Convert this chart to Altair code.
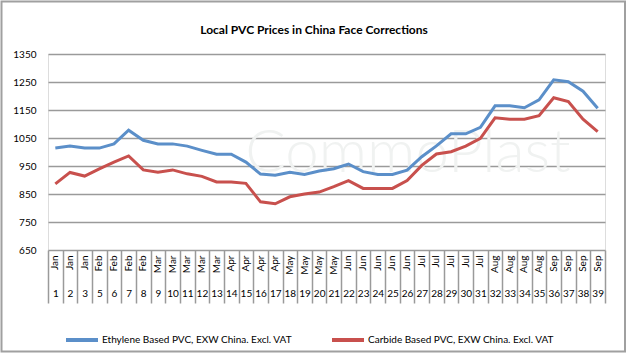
import altair as alt
import pandas as pd

# ---- data ----
months = ["Jan", "Jan", "Jan", "Feb", "Feb", "Feb", "Feb",
          "Mar", "Mar", "Mar", "Mar", "Mar", "Apr", "Apr", "Apr", "Apr",
          "May", "May", "May", "May", "Jun", "Jun", "Jun", "Jun", "Jun",
          "Jul", "Jul", "Jul", "Jul", "Jul", "Aug", "Aug", "Aug", "Aug",
          "Sep", "Sep", "Sep", "Sep"]
weeks = [1, 2, 3, 5, 6, 7, 8, 9, 10, 11, 12, 13, 14, 15, 16, 17, 18, 19, 20,
         21, 22, 23, 24, 25, 26, 27, 28, 29, 30, 31, 32, 33, 34, 35, 36, 37, 38, 39]
ethylene = [1014, 1021, 1014, 1014, 1029, 1078, 1042, 1029, 1029, 1021, 1006,
            992, 992, 964, 921, 917, 928, 920, 932, 940, 957, 930, 920, 920,
            935, 983, 1022, 1065, 1065, 1088, 1165, 1165, 1158, 1186, 1258,
            1251, 1217, 1156]
carbide = [886, 927, 914, 940, 964, 986, 936, 928, 936, 922, 913, 893, 893,
           888, 822, 815, 840, 850, 857, 876, 898, 870, 870, 870, 898, 952,
           993, 1001, 1021, 1049, 1122, 1117, 1117, 1130, 1194, 1180, 1117, 1073]
series_names = ["Ethylene Based PVC, EXW China. Excl. VAT",
                "Carbide Based PVC, EXW China. Excl. VAT"]
colors = ["#5B8FC9", "#C8504D"]
y_ticks = [650, 750, 850, 950, 1050, 1150, 1250, 1350]
title_text = "Local PVC Prices in China Face Corrections"
watermark = "CommoPlast"

keys = [f"{m}|{w}" for m, w in zip(months, weeks)]
rows = []
for name, vals in zip(series_names, [ethylene, carbide]):
    for k, v in zip(keys, vals):
        rows.append({"key": k, "series": name, "price": v})
df = pd.DataFrame(rows)

FONT = "Lato"
GRID = "#9a9a9a"

xscale = alt.Scale(type="band", paddingInner=0, paddingOuter=0, domain=keys)
yscale = alt.Scale(domain=[650, 1350], nice=False, zero=False)

lines = alt.Chart(df).mark_line(strokeWidth=3).encode(
    x=alt.X("key:N", scale=xscale, sort=None,
            axis=alt.Axis(orient="bottom", title=None,
                          labelExpr="split(datum.value,'|')[0]",
                          labelAngle=-90, ticks=False, domain=False,
                          labelPadding=5, labelFontSize=10, labelFont=FONT,
                          labelColor="black", labelOverlap=False)),
    y=alt.Y("price:Q", scale=yscale,
            axis=alt.Axis(values=y_ticks, format="d", title=None, grid=True,
                          gridColor=GRID, gridWidth=1.5, domain=False,
                          ticks=False, labelPadding=12, labelFontSize=10,
                          labelFont=FONT, labelColor="black")),
    color=alt.Color("series:N",
                    scale=alt.Scale(domain=series_names, range=colors),
                    legend=alt.Legend(title=None, orient="none", legendX=16,
                                      legendY=268, direction="horizontal",
                                      symbolType="stroke", symbolSize=1024,
                                      symbolStrokeWidth=4, labelFontSize=10,
                                      labelFont=FONT, labelColor="black",
                                      columnPadding=31, labelOffset=2,
                                      padding=0, labelLimit=400)),
)

nums = alt.Chart(df).mark_point(opacity=0).encode(
    x=alt.X("key:N", scale=xscale, sort=None,
            axis=alt.Axis(orient="bottom", title=None,
                          labelExpr="split(datum.value,'|')[1]",
                          labelAngle=0, ticks=True, tickBand="extent",
                          tickSize=53, tickColor=GRID, tickWidth=1.5,
                          domain=False, labelPadding=-15, labelFontSize=10,
                          labelFont=FONT, labelColor="black",
                          labelOverlap=False)),
)

wm = alt.Chart(pd.DataFrame({"t": [watermark]})).mark_text(
    font=FONT, fontSize=60, fontWeight=300, color="#f0f2f1",
    align="center", baseline="middle"
).encode(text="t:N", x=alt.value(360), y=alt.value(100))

border = alt.Chart(pd.DataFrame({"b": [0]})).mark_rect(
    filled=False, stroke="#a0a0a0", strokeWidth=2
).encode(x=alt.value(-46.5), x2=alt.value(577), y=alt.value(-52.5),
         y2=alt.value(297.5))

chart = alt.layer(border, wm, lines, nums).resolve_axis(x="independent").properties(
    width=557, height=196,
    autosize=alt.AutoSizeParams(type="none"),
    padding={"left": 48, "top": 54, "right": 23, "bottom": 104},
    title=alt.Title(title_text, fontSize=12, font=FONT, fontWeight="bold",
                    color="black", anchor="middle", frame="group",
                    offset=-36.5, dx=-12.5),
).configure_view(stroke=None).configure(background="white")

chart.save("out.html", embed_options={"renderer": "svg", "actions": False})
